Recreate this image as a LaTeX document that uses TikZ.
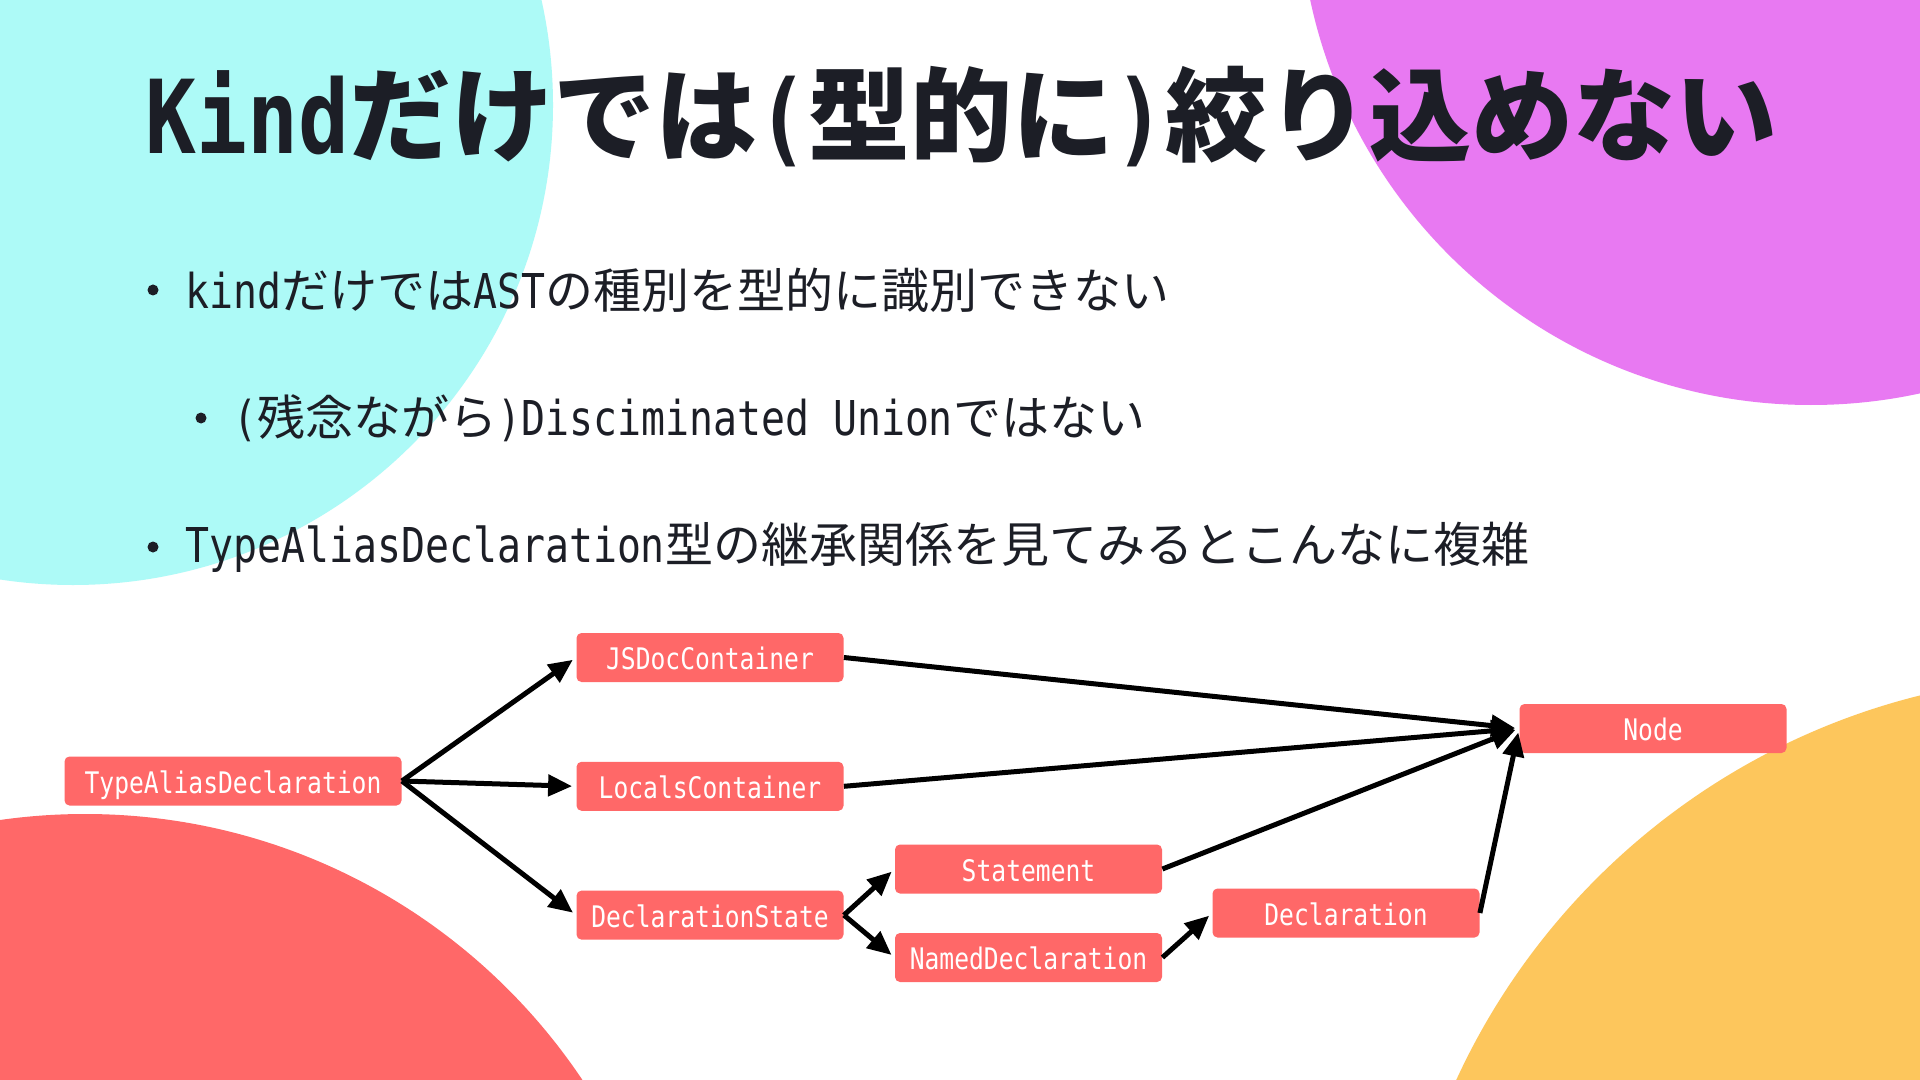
\documentclass[tikz,border=0pt]{standalone}
\usepackage{fontspec}
\setmainfont{Noto Sans CJK JP}
\newfontfamily\codefont[FakeStretch=0.83]{DejaVu Sans Mono}
\usetikzlibrary{arrows.meta,positioning}
\definecolor{ink}{HTML}{1C1E26}
\definecolor{coral}{HTML}{FF6868}
\definecolor{aqua}{HTML}{ADFAF7}
\definecolor{orchid}{HTML}{E879F2}
\definecolor{mustard}{HTML}{FDC65C}
\newcommand{\cd}[1]{{\codefont #1}}
\tikzset{
  headline/.style={anchor=west,inner sep=0pt,text=ink,
                   font=\bfseries\fontsize{51pt}{61pt}\selectfont},
  item/.style    ={anchor=west,inner sep=0pt,text=ink,
                   font=\fontsize{24pt}{29pt}\selectfont},
  dot/.style     ={circle,fill=ink,inner sep=0pt,minimum size=5.5pt},
  cls/.style     ={rounded corners=2.5pt,fill=coral,text=white,inner sep=0pt,
                   minimum width=133.5pt,minimum height=24.5pt,
                   text height=14pt,text depth=1.7pt,
                   font=\codefont\fontsize{14.85pt}{16pt}\selectfont},
  wide/.style    ={minimum width=168.5pt},
  inh/.style     ={-{Triangle[length=12pt,width=10.5pt]},line width=2.5pt,
                   draw=black,shorten >=2pt}
}

\begin{document}
\begin{tikzpicture}[x=0.5pt,y=-0.5pt]
  \useasboundingbox (0,0) rectangle (1920,1080);
  \fill[white] (0,0) rectangle (1920,1080);
  % background blobs
  \begin{scope}
    \clip (0,0) rectangle (1920,1080);
    \fill[aqua] (73,105) circle[radius=480];
    \fill[orchid] (1811,-107) circle[radius=512];
    \fill[coral] (85,1412) circle[radius=598];
    \fill[mustard] (2088,1370) circle[radius=695];
  \end{scope}

  \node[headline] (title) at (145,117) {\cd{Kind}だけでは\cd{(}型的に\cd{)}絞り込めない};

  \node[dot] (d1) at (153,290) {};
  \node[item,right=13pt of d1] (b1) {\cd{kind}だけでは\cd{AST}の種別を型的に識別できない};
  \node[dot] (d2) at (201,418) {};
  \node[item,right=13pt of d2] (b2) {\cd{(}残念ながら\cd{)Disciminated Union}ではない};
  \node[dot] (d3) at (153,547) {};
  \node[item,right=13pt of d3] (b3) {\cd{TypeAliasDeclaration}型の継承関係を見てみるとこんなに複雑};

  % inheritance graph
  \node[cls,wide] (tad) at (233,781) {TypeAliasDeclaration};
  \node[cls] (jsdoc) at (710,657.5) {JSDocContainer};
  \node[cls,below=39.5pt of jsdoc] (locals) {LocalsContainer};
  \node[cls,below=39.5pt of locals] (dstate) {DeclarationState};
  \node[cls] (stmt) at (1028.5,869) {Statement};
  \node[cls] (named) at (1028.5,957.5) {NamedDeclaration};
  \node[cls] (decl) at (1346,913) {Declaration};
  \node[cls] (root) at (1653,728.5) {Node};

  \draw[inh] (tad.east) -- (jsdoc.west);
  \draw[inh] (tad.east) -- (locals.west);
  \draw[inh] (tad.east) -- (dstate.west);
  \draw[inh] (dstate.east) -- (stmt.west);
  \draw[inh] (dstate.east) -- (named.west);
  \draw[inh] (named.east) -- (decl.west);
  \draw[inh] (jsdoc.east) -- (root.west);
  \draw[inh] (locals.east) -- (root.west);
  \draw[inh] (stmt.east) -- (root.west);
  \draw[inh] (decl.east) -- (root.west);
\end{tikzpicture}
\end{document}
